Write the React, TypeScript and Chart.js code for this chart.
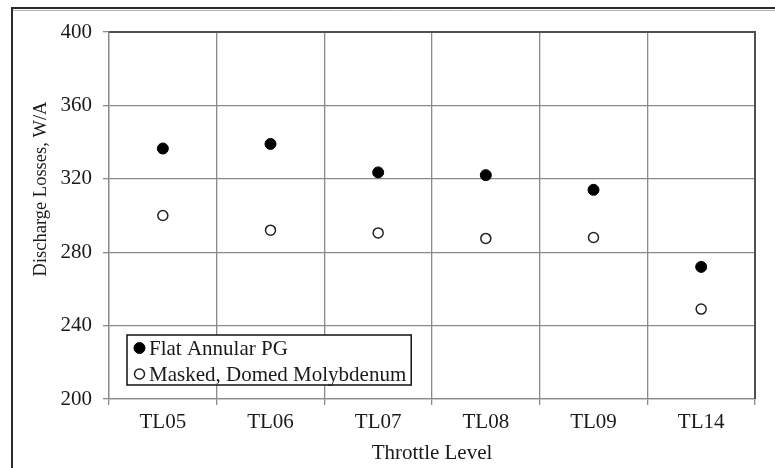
import React, { useEffect, useRef } from "react";
import { Chart, registerables } from "chart.js";

Chart.register(...registerables);

const categories = ["TL05", "TL06", "TL07", "TL08", "TL09", "TL14"];
const flatAnnularPG = [336.5, 339, 323.5, 322, 314, 272];
const maskedDomedMo = [300, 292, 290.5, 287.5, 288, 249];
const seriesLabels = ["Flat Annular PG", "Masked, Domed Molybdenum"];
const yTitle = "Discharge Losses, W/A";
const xTitle = "Throttle Level";

const FONT = "'Liberation Serif', 'Times New Roman', serif";
const TEXT = "#1a1a1a";
const GRID = "#8a8a8a";

const framePlugin = {
  id: "frame",
  afterDraw(chart: any) {
    const { ctx, chartArea } = chart;
    const { left, right, top, bottom } = chartArea;
    ctx.save();
    // outer frame
    ctx.strokeStyle = "#2a2a2a";
    ctx.lineWidth = 2;
    ctx.beginPath();
    ctx.moveTo(12, 470);
    ctx.lineTo(12, 8);
    ctx.lineTo(780, 8);
    ctx.stroke();
    ctx.strokeStyle = "#b0b0b0";
    ctx.lineWidth = 1;
    ctx.beginPath();
    ctx.moveTo(13, 10.5);
    ctx.lineTo(780, 10.5);
    ctx.stroke();
    // plot area top/right border
    ctx.strokeStyle = "#505050";
    ctx.lineWidth = 2;
    ctx.beginPath();
    ctx.moveTo(left, top);
    ctx.lineTo(right, top);
    ctx.lineTo(right, bottom);
    ctx.stroke();

    // y axis title
    ctx.save();
    ctx.translate(41, 189);
    ctx.rotate(-Math.PI / 2);
    ctx.font = `18.5px ${FONT}`;
    ctx.fillStyle = TEXT;
    ctx.textAlign = "center";
    ctx.textBaseline = "middle";
    ctx.fillText(yTitle, 0, 0);
    ctx.restore();

    // legend
    const lx = 127;
    const ly = 335;
    const lh = 50;
    ctx.font = `21px ${FONT}`;
    const textX = lx + 22;
    let maxW = 0;
    seriesLabels.forEach((s) => {
      maxW = Math.max(maxW, ctx.measureText(s).width);
    });
    const lw = textX - lx + maxW + 5;
    ctx.fillStyle = "#ffffff";
    ctx.fillRect(lx, ly, lw, lh);
    ctx.strokeStyle = "#111";
    ctx.lineWidth = 1.5;
    ctx.strokeRect(lx, ly, lw, lh);
    const rows = [ly + 13, ly + 39];
    chart.data.datasets.forEach((ds: any, i: number) => {
      const cy = rows[i];
      ctx.beginPath();
      ctx.arc(lx + 12.5, cy, ds.pointRadius, 0, Math.PI * 2);
      ctx.fillStyle = ds.pointBackgroundColor;
      ctx.fill();
      ctx.lineWidth = ds.pointBorderWidth;
      ctx.strokeStyle = ds.pointBorderColor;
      ctx.stroke();
      ctx.fillStyle = TEXT;
      ctx.textBaseline = "middle";
      ctx.textAlign = "left";
      ctx.fillText(ds.label, textX, cy + 1);
    });
    ctx.restore();
  },
};

export default function App() {
  const ref = useRef<HTMLCanvasElement>(null);
  useEffect(() => {
    document.body.style.margin = "0";
    const chart = new Chart(ref.current!, {
      type: "line",
      data: {
        labels: categories,
        datasets: [
          {
            label: seriesLabels[0],
            data: flatAnnularPG,
            showLine: false,
            pointRadius: 5.5,
            pointBackgroundColor: "#000000",
            pointBorderColor: "#000000",
            pointBorderWidth: 1,
          },
          {
            label: seriesLabels[1],
            data: maskedDomedMo,
            showLine: false,
            pointRadius: 5,
            pointBackgroundColor: "#ffffff",
            pointBorderColor: "#222222",
            pointBorderWidth: 1.5,
          },
        ],
      },
      options: {
        responsive: false,
        animation: false,
        layout: { padding: { left: 0, right: 20, top: 32, bottom: 0 } },
        plugins: {
          legend: { display: false },
          tooltip: { enabled: false },
        },
        scales: {
          x: {
            type: "category",
            offset: true,
            afterFit: (s: any) => {
              s.height = 69;
            },
            grid: {
              offset: true,
              color: GRID,
              lineWidth: 1.3,
              tickLength: 6,
              tickColor: GRID,
            },
            border: { color: GRID, width: 1.3 },
            ticks: {
              color: TEXT,
              font: { family: FONT, size: 21 },
              padding: 5,
              maxRotation: 0,
            },
            title: {
              display: true,
              text: xTitle,
              color: TEXT,
              font: { family: FONT, size: 21 },
              padding: { top: 0, bottom: 2.4 },
            },
          },
          y: {
            min: 200,
            max: 400,
            afterFit: (s: any) => {
              s.width = 109;
            },
            grid: {
              color: GRID,
              lineWidth: 1.3,
              tickLength: 6,
              tickColor: GRID,
            },
            border: { color: GRID, width: 1.3 },
            ticks: {
              stepSize: 40,
              color: TEXT,
              font: { family: FONT, size: 21 },
              padding: 11,
            },
            title: { display: false },
          },
        },
      },
      plugins: [framePlugin],
    });
    return () => chart.destroy();
  }, []);
  return (
    <div style={{ position: "absolute", left: 0, top: 0, width: 775, height: 468 }}>
      <canvas ref={ref} width={775} height={468} />
    </div>
  );
}
